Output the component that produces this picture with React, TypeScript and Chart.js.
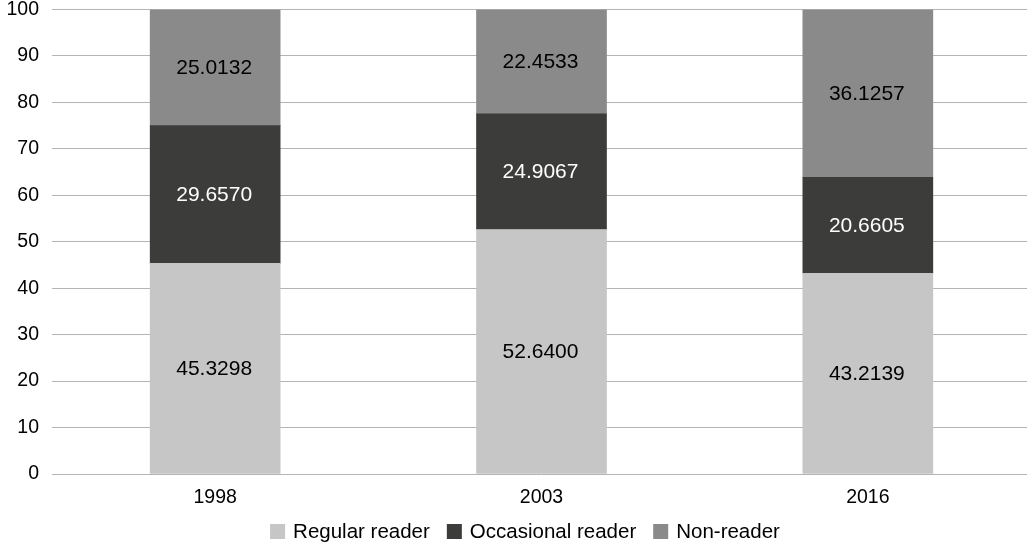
import React, { useEffect, useRef } from "react";
import { Chart, registerables } from "chart.js";

Chart.register(...registerables);

const categories = ["1998", "2003", "2016"];
const seriesNames = ["Regular reader", "Occasional reader", "Non-reader"];
const regularReader = [45.3298, 52.64, 43.2139];
const occasionalReader = [29.657, 24.9067, 20.6605];
const nonReader = [25.0132, 22.4533, 36.1257];
const seriesColors = ["#c6c6c6", "#3c3c3a", "#8a8a8a"];
const labelColors = ["#000000", "#ffffff", "#000000"];
const yMin = 0;
const yMax = 100;
const yStep = 10;

const FONT = '"Liberation Sans", Arial, Helvetica, sans-serif';

const dataLabelPlugin = {
  id: "dataLabels",
  afterDatasetsDraw(chart: any) {
    const ctx = chart.ctx;
    ctx.save();
    ctx.font = `21px ${FONT}`;
    ctx.textAlign = "center";
    ctx.textBaseline = "middle";
    chart.data.datasets.forEach((ds: any, i: number) => {
      const meta = chart.getDatasetMeta(i);
      meta.data.forEach((bar: any, j: number) => {
        const p = bar.getProps(["x", "y", "base"], true);
        ctx.fillStyle = labelColors[i];
        ctx.fillText(Number(ds.data[j]).toFixed(4), p.x - 1, (p.y + p.base) / 2 + 1);
      });
    });
    ctx.restore();
  },
};

const legendPlugin = {
  id: "customLegend",
  afterDraw(chart: any) {
    const ctx = chart.ctx;
    ctx.save();
    ctx.font = `20.5px ${FONT}`;
    ctx.textBaseline = "middle";
    ctx.textAlign = "left";
    const box = 15;
    const textGap = 8;
    const itemGap = 17;
    const widths = seriesNames.map((n) => ctx.measureText(n).width);
    const total =
      widths.reduce((a, b) => a + b, 0) + seriesNames.length * (box + textGap) + itemGap * (seriesNames.length - 1);
    let x = 525 - total / 2;
    const cy = 531.5;
    seriesNames.forEach((name, i) => {
      ctx.fillStyle = seriesColors[i];
      ctx.fillRect(x, cy - box / 2, box, box);
      ctx.fillStyle = "#000000";
      ctx.fillText(name, x + box + textGap, cy + 1);
      x += box + textGap + widths[i] + itemGap;
    });
    ctx.restore();
  },
};

export default function App() {
  const ref = useRef<HTMLCanvasElement | null>(null);

  useEffect(() => {
    if (!ref.current) return;
    const series = [regularReader, occasionalReader, nonReader];
    const chart = new Chart(ref.current, {
      type: "bar",
      data: {
        labels: categories,
        datasets: series.map((d, i) => ({
          label: seriesNames[i],
          data: d,
          backgroundColor: seriesColors[i],
          borderWidth: 0,
          barThickness: 130,
        })),
      },
      options: {
        responsive: false,
        maintainAspectRatio: false,
        animation: false,
        layout: { padding: { top: 9.5, left: 0, right: 0, bottom: 0 } },
        plugins: {
          legend: { display: false },
          tooltip: { enabled: false },
        },
        scales: {
          x: {
            stacked: true,
            grid: { display: false, drawTicks: false },
            border: { display: false },
            ticks: {
              color: "#000000",
              font: { family: FONT, size: 19.5 },
              padding: 12,
            },
            afterFit(scale: any) {
              scale.height = 70;
              scale.paddingLeft = 0;
              scale.paddingRight = 0;
            },
          },
          y: {
            stacked: true,
            min: yMin,
            max: yMax,
            grid: { color: "#b4b4b4", lineWidth: 1, drawTicks: false },
            border: { display: false },
            ticks: {
              stepSize: yStep,
              color: "#000000",
              font: { family: FONT, size: 19.5 },
              padding: 13,
            },
            afterFit(scale: any) {
              scale.width = 52;
              scale.paddingTop = 0;
              scale.paddingBottom = 0;
            },
          },
        },
      },
      plugins: [dataLabelPlugin, legendPlugin],
    } as any);
    return () => chart.destroy();
  }, []);

  return (
    <div
      style={{
        position: "fixed",
        left: 0,
        top: 0,
        width: 1027,
        height: 544,
        overflow: "hidden",
        background: "#ffffff",
      }}
    >
      <canvas ref={ref} width={1031} height={544} style={{ display: "block", width: 1031, height: 544 }} />
    </div>
  );
}
